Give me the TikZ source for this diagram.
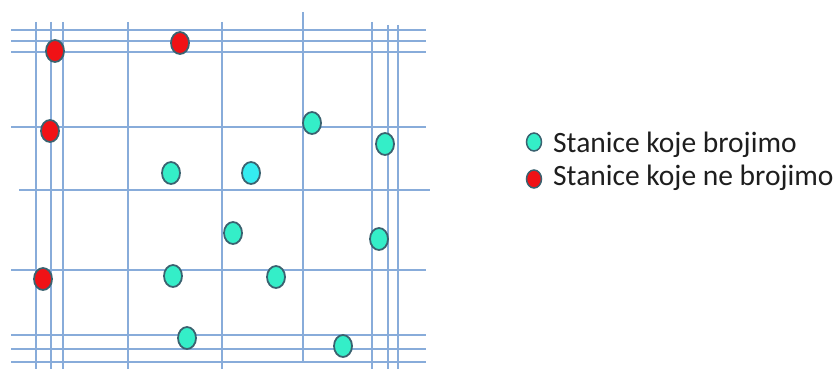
\documentclass[tikz,border=0pt]{standalone}
\usepackage{fontspec}
\setmainfont{Carlito}
\usetikzlibrary{shapes.geometric}
\definecolor{gridblue}{RGB}{136,172,218}
\definecolor{teal}{RGB}{52,238,200}
\definecolor{lcyan}{RGB}{52,236,240}
\definecolor{cred}{RGB}{240,18,22}
\definecolor{cborder}{RGB}{58,98,112}
\definecolor{txt}{RGB}{30,30,30}
\tikzset{
  gridline/.style={draw=gridblue, line width=1.6pt},
  cell/.style={ellipse, draw=cborder, line width=1.8pt, minimum width=18pt, minimum height=22pt, inner sep=0pt},
  counted/.style={cell, fill=teal},
  notcounted/.style={cell, fill=cred},
  legcell/.style={ellipse, draw=cborder, line width=1.5pt, minimum width=15pt, minimum height=18pt, inner sep=0pt},
  legtext/.style={anchor=base west, inner sep=0pt, text=txt, font=\fontsize{29.5}{34}\selectfont}
}
\begin{document}
\begin{tikzpicture}[x=1pt,y=-1pt]
\useasboundingbox (0,0) rectangle (835,369);
% horizontal lines
\foreach \yy in {30,41,52,127,270,335,349,362} \draw[gridline] (11,\yy) -- (426,\yy);
\draw[gridline] (19,190) -- (430,190);
% vertical lines
\foreach \xx in {36,51,63,128,222,372} \draw[gridline] (\xx,22) -- (\xx,369);
\foreach \xx in {388,398} \draw[gridline] (\xx,25) -- (\xx,369);
\draw[gridline] (303,12) -- (303,362);
% cells
\node[notcounted] (r1) at (55,51) {};
\node[notcounted] (r2) at (180,43) {};
\node[notcounted] (r3) at (50,131) {};
\node[notcounted] (r4) at (43,279) {};
\node[counted] (c1) at (312,123) {};
\node[counted] (c2) at (385,144) {};
\node[counted] (c3) at (171,173) {};
\node[counted, fill=lcyan] (c4) at (251,173) {};
\node[counted] (c5) at (233,233) {};
\node[counted] (c6) at (379,239) {};
\node[counted] (c7) at (173,276) {};
\node[counted] (c8) at (276,277) {};
\node[counted] (c9) at (187,338) {};
\node[counted] (c10) at (343,346) {};
% legend
\node[legcell, fill=teal] (l1) at (534,142) {};
\node[legcell, fill=cred] (l2) at (534,179) {};
\node[legtext] (t1) at (553,152) {Stanice koje brojimo};
\node[legtext] (t2) at (553,185) {Stanice koje ne brojimo};
\end{tikzpicture}
\end{document}
